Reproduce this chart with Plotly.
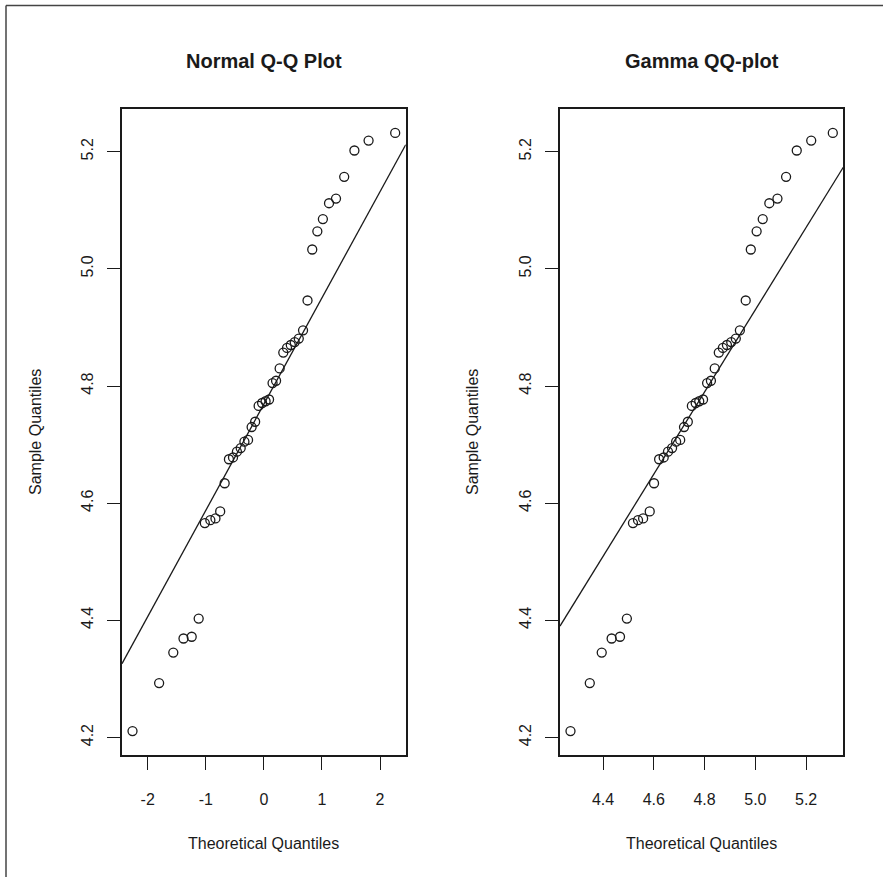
import plotly.graph_objects as go

W, H = 883, 877

# ---- data ----
sample_quantiles = [
    4.211, 4.293, 4.345, 4.369, 4.372, 4.403, 4.566, 4.571, 4.574, 4.586,
    4.634, 4.675, 4.678, 4.688, 4.694, 4.705, 4.708, 4.730, 4.739, 4.766,
    4.771, 4.774, 4.777, 4.805, 4.809, 4.830, 4.857, 4.865, 4.870, 4.875,
    4.881, 4.895, 4.946, 5.033, 5.064, 5.085, 5.112, 5.120, 5.157, 5.202,
    5.219, 5.232,
]
normal_pos = [0.0298, 0.0896, 0.1499, 0.2104, 0.2719, 0.3345, 0.3987, 0.4637,
              0.5311, 0.6010, 0.6745, 0.7517, 0.8330, 0.9208, 1.0160, 1.1217,
              1.2419, 1.3830, 1.5588, 1.8027, 2.2608]
normal_theoretical = [-v for v in normal_pos[::-1]] + normal_pos
gamma_theoretical = [
    4.272, 4.348, 4.395, 4.434, 4.467, 4.494, 4.518, 4.538, 4.558, 4.584,
    4.601, 4.621, 4.639, 4.656, 4.672, 4.688, 4.704, 4.719, 4.734, 4.750,
    4.765, 4.779, 4.794, 4.810, 4.825, 4.840, 4.856, 4.872, 4.888, 4.905,
    4.923, 4.939, 4.962, 4.982, 5.005, 5.029, 5.055, 5.087, 5.121, 5.163,
    5.220, 5.305,
]
normal_line = (4.769, 0.1814)    # intercept, slope
gamma_line = (1.4203, 0.702)

x1_ticks = [-2, -1, 0, 1, 2]
x1_ticktext = ["-2", "-1", "0", "1", "2"]
x2_ticks = [4.4, 4.6, 4.8, 5.0, 5.2]
x2_ticktext = ["4.4", "4.6", "4.8", "5.0", "5.2"]
y_ticks = [4.2, 4.4, 4.6, 4.8, 5.0, 5.2]
y_ticktext = ["4.2", "4.4", "4.6", "4.8", "5.0", "5.2"]

titles = ["Normal Q-Q Plot", "Gamma QQ-plot"]
xlab = "Theoretical Quantiles"
ylab = "Sample Quantiles"


def rrange(v):
    lo, hi = min(v), max(v)
    d = (hi - lo) * 0.04
    return [lo - d, hi + d]


FONT = "Liberation Sans, Arial, sans-serif"
TXT = "#1a1a1a"

fig = go.Figure()

x1r = rrange(normal_theoretical)
x2r = rrange(gamma_theoretical)
yr = rrange(sample_quantiles)

mk = dict(symbol="circle-open", size=9, color=TXT, line=dict(width=1.3, color=TXT))

fig.add_trace(go.Scatter(x=normal_theoretical, y=sample_quantiles, mode="markers",
                         marker=mk, xaxis="x", yaxis="y", showlegend=False))
fig.add_trace(go.Scatter(x=x1r, y=[normal_line[0] + normal_line[1] * v for v in x1r],
                         mode="lines", line=dict(color=TXT, width=1.3),
                         xaxis="x", yaxis="y", showlegend=False))
fig.add_trace(go.Scatter(x=gamma_theoretical, y=sample_quantiles, mode="markers",
                         marker=mk, xaxis="x2", yaxis="y2", showlegend=False))
fig.add_trace(go.Scatter(x=x2r, y=[gamma_line[0] + gamma_line[1] * v for v in x2r],
                         mode="lines", line=dict(color=TXT, width=1.3),
                         xaxis="x2", yaxis="y2", showlegend=False))

# panel geometry in px
L1, R1 = 122, 405.7
L2, R2 = 560, 843.3
T, B = 109, 755

axcommon = dict(showline=True, linecolor=TXT, linewidth=1.5, mirror=True,
                ticks="outside", ticklen=13, tickwidth=1.3, tickcolor=TXT,
                showgrid=False, zeroline=False,
                tickfont=dict(family=FONT, size=16, color=TXT))

fig.update_layout(
    width=W, height=H,
    margin=dict(l=0, r=0, t=0, b=0),
    paper_bgcolor="white", plot_bgcolor="white",
    xaxis=dict(domain=[L1 / W, R1 / W], range=x1r, tickvals=x1_ticks,
               ticktext=x1_ticktext, anchor="y", ticklabelstandoff=16, **axcommon),
    yaxis=dict(domain=[1 - B / H, 1 - T / H], range=yr, tickvals=y_ticks,
               ticktext=y_ticktext, anchor="x", tickangle=-90,
               ticklabelstandoff=8, **axcommon),
    xaxis2=dict(domain=[L2 / W, R2 / W], range=x2r, tickvals=x2_ticks,
                ticktext=x2_ticktext, anchor="y2", ticklabelstandoff=16, **axcommon),
    yaxis2=dict(domain=[1 - B / H, 1 - T / H], range=yr, tickvals=y_ticks,
                ticktext=y_ticktext, anchor="x2", tickangle=-90,
                ticklabelstandoff=8, **axcommon),
)

ann = []
for cx, t in zip([(L1 + R1) / 2, (L2 + R2) / 2], titles):
    ann.append(dict(x=cx / W, y=1 - 61 / H, xref="paper", yref="paper",
                    text="<b>" + t + "</b>", showarrow=False,
                    font=dict(family=FONT, size=20, color=TXT),
                    xanchor="center", yanchor="middle"))
    ann.append(dict(x=cx / W, y=1 - 843 / H, xref="paper", yref="paper",
                    text=xlab, showarrow=False,
                    font=dict(family=FONT, size=16, color=TXT),
                    xanchor="center", yanchor="middle"))
for lx in [35, 472]:
    ann.append(dict(x=lx / W, y=1 - ((T + B) / 2) / H, xref="paper", yref="paper",
                    text=ylab, showarrow=False, textangle=-90,
                    font=dict(family=FONT, size=16, color=TXT),
                    xanchor="center", yanchor="middle"))
fig.update_layout(annotations=ann)

# outer frame (top and left edges visible in the crop)
fig.add_shape(type="line", xref="paper", yref="paper", x0=6 / W, x1=1, y0=1 - 5.5 / H,
              y1=1 - 5.5 / H, line=dict(color="#444", width=1.5))
fig.add_shape(type="line", xref="paper", yref="paper", x0=6 / W, x1=6 / W, y0=0,
              y1=1 - 5.5 / H, line=dict(color="#444", width=1.5))

fig.write_html("out.html")
